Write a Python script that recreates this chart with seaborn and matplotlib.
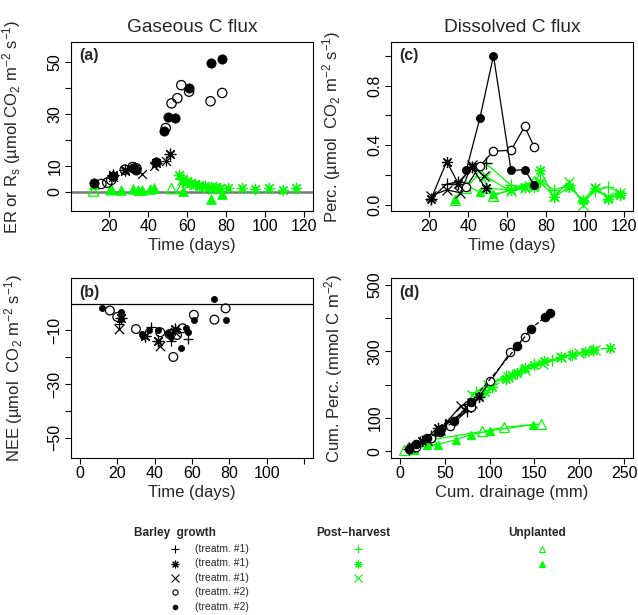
import numpy as np
import pandas as pd
import seaborn as sns
import matplotlib.pyplot as plt

GREEN = "#00ff00"
STAR = (8, 2, 0)   # R pch 8: asterisk made of + and x

# ---- panel (a): ecosystem respiration, time in days ----
a_plus_t = [22, 33, 44, 49]
a_plus_v = [6.0, 9.0, 10.5, 12.0]
a_star_t = [22, 28, 33, 44, 51]
a_star_v = [6.5, 8.5, 9.0, 11.0, 14.5]
a_x_t = [22, 28, 37, 43, 49]
a_x_v = [5.5, 8.0, 7.0, 10.0, 12.0]
a_open_t = [16, 19, 21, 28, 32, 34, 49, 52, 55, 57, 61, 72, 78]
a_open_v = [3.0, 3.5, 4.5, 8.5, 9.5, 9.0, 24.5, 34.0, 36.0, 41.0, 38.5, 34.8, 38.0]
a_fill_t = [12, 22, 32, 34, 44, 48, 50, 54, 61, 72, 78]
a_fill_v = [3.2, 6.2, 9.0, 8.5, 11.5, 23.3, 28.6, 28.2, 40.0, 49.7, 51.2]
a_ph_star_t = [56, 58, 60, 62, 64, 66, 69, 72, 75, 77, 81, 88, 95, 102, 109, 116]
a_ph_star_v = [6.5, 5.0, 4.0, 3.5, 3.0, 2.5, 2.2, 2.0, 1.8, 1.6, 1.4, 1.5, 1.2, 1.5, 0.7, 1.3]
a_ph_plus_t = [57, 59, 61, 63, 65, 68, 71, 74, 76]
a_ph_plus_v = [5.0, 4.0, 3.5, 3.0, 2.5, 2.0, 1.5, 1.2, 1.5]
a_ph_x_t = [57, 59, 61, 63, 66, 68, 70, 73, 76]
a_ph_x_v = [4.0, 3.5, 3.0, 2.5, 2.0, 1.8, 1.0, 0.8, 1.2]
a_unp_open_t = [12, 21, 52, 57]
a_unp_open_v = [0.3, 0.8, 1.2, 1.5]
a_unp_fill_t = [12, 21, 26, 32, 35, 37, 41, 43, 58, 72, 78]
a_unp_fill_v = [3.0, 1.2, 0.5, 1.0, 0.8, 0.5, 1.2, 1.4, 0.2, -2.6, -1.0]

# ---- panel (b): NEE ----
b_open_t = [16, 20, 30, 43, 48, 50, 52, 55, 61, 72, 78]
b_open_v = [-2.6, -5.0, -9.5, -10.7, -11.4, -19.9, -11.7, -9.2, -4.2, -6.0, -1.8]
b_fill_t = [12, 22, 22, 33, 34, 37, 42, 47, 49, 54, 57, 58, 61, 72, 78]
b_fill_v = [-1.8, -3.3, -5.8, -11.4, -12.0, -10.0, -9.9, -10.8, -12.6, -16.4, -9.2, -10.7, -6.1, 1.8, -6.0]
b_plus_t = [21, 38, 49, 58]
b_plus_v = [-7.6, -8.9, -13.9, -13.2]
b_star_t = [22, 35, 42, 51]
b_star_v = [-5.5, -12.0, -13.9, -9.5]
b_x_t = [21, 43, 51]
b_x_v = [-9.5, -15.7, -10.5]

# ---- panel (c): percolation flux ----
c_fill_t = [39, 46, 53, 62, 69, 74]
c_fill_v = [0.23, 0.58, 1.0, 0.23, 0.235, 0.13]
c_open_t = [39, 46, 53, 62, 69, 74]
c_open_v = [0.12, 0.26, 0.36, 0.365, 0.525, 0.385]
c_star_t = [21, 29, 35, 42, 49]
c_star_v = [0.04, 0.29, 0.14, 0.25, 0.11]
c_plus_t = [21, 29, 35, 42, 49]
c_plus_v = [0.04, 0.14, 0.15, 0.25, 0.28]
c_x_t = [21, 29, 36, 42, 48]
c_x_v = [0.06, 0.10, 0.08, 0.27, 0.19]
c_ph_t = [49, 62, 69, 74, 77, 84, 92, 99, 105, 112, 118]
c_ph_plus_v = [0.28, 0.13, 0.12, 0.14, 0.16, 0.10, 0.13, 0.02, 0.09, 0.12, 0.08]
c_ph_star_v = [0.11, 0.10, 0.12, 0.12, 0.23, 0.05, 0.12, 0.03, 0.115, 0.04, 0.065]
c_ph_x_v = [0.19, 0.09, 0.11, 0.14, 0.15, 0.06, 0.155, 0.0, 0.11, 0.05, 0.08]
c_unp_t = [33, 39, 46, 53, 74]
c_unp_open_v = [0.03, 0.11, 0.22, 0.06, 0.16]
c_unp_fill_v = [0.04, 0.13, 0.085, 0.07, 0.13]

# ---- panel (d): cumulative percolation vs cumulative drainage ----
d_fill_x = [10, 18, 30, 45, 60, 79, 131, 146, 162, 167]
d_fill_y = [8, 22, 40, 58, 90, 147, 315, 367, 404, 416]
d_open_x = [18, 35, 56, 79, 101, 123, 139]
d_open_y = [12, 40, 75, 132, 210, 297, 342]
d_star_x = [12, 25, 42, 55, 75, 88]
d_star_y = [10, 30, 70, 85, 130, 162]
d_plus_x = [10, 22, 35, 50, 75]
d_plus_y = [8, 28, 45, 80, 120]
d_x_x = [15, 30, 45, 68, 80]
d_x_y = [12, 35, 65, 137, 145]
d_ph_star_x = [88, 95, 103, 118, 125, 131, 140, 150, 161, 180, 192, 206, 215, 234]
d_ph_star_y = [165, 178, 192, 217, 228, 236, 251, 260, 270, 282, 290, 297, 305, 310]
d_ph_plus_x = [85, 100, 118, 135, 150, 170, 190, 215]
d_ph_plus_y = [178, 205, 225, 245, 262, 275, 290, 303]
d_ph_x_x = [80, 98, 120, 140, 160, 180, 200, 218]
d_ph_x_y = [170, 200, 222, 245, 262, 282, 295, 305]
d_unp_open_x = [5, 14, 30, 36, 92, 116, 157]
d_unp_open_y = [3, 8, 30, 35, 60, 72, 82]
d_unp_fill_x = [14, 30, 42, 62, 79, 101, 148]
d_unp_fill_y = [8, 18, 20, 35, 50, 62, 80]

sns.set_theme(style="ticks")
plt.rcParams["font.family"] = ["Liberation Sans", "DejaVu Sans"]
plt.rcParams["mathtext.default"] = "regular"
plt.rcParams["axes.linewidth"] = 0.8
plt.rcParams["xtick.major.width"] = 0.8
plt.rcParams["ytick.major.width"] = 0.8
plt.rcParams["xtick.major.size"] = 4
plt.rcParams["ytick.major.size"] = 4
plt.rcParams["xtick.labelsize"] = 11.5
plt.rcParams["ytick.labelsize"] = 11.5

fig = plt.figure(figsize=(6.38, 6.15), dpi=100)
W, H = 638, 615
ax_a = fig.add_axes([71 / W, 1 - 211 / H, 242 / W, 169 / H])
ax_b = fig.add_axes([71 / W, 1 - 458 / H, 242 / W, 180 / H])
ax_c = fig.add_axes([391 / W, 1 - 211 / H, 242 / W, 169 / H])
ax_d = fig.add_axes([391 / W, 1 - 458 / H, 242 / W, 180 / H])


def pts(ax, x, y, marker, color="black", s=40, hollow=False, lw=0.9):
    if hollow:
        sns.scatterplot(x=x, y=y, marker=marker, s=s, facecolors="none",
                        edgecolor=color, linewidth=lw, ax=ax, zorder=3)
    elif marker in ("+", "x", STAR):
        sns.scatterplot(x=x, y=y, marker=marker, s=s, color=color,
                        linewidth=lw, ax=ax, zorder=3)
    else:
        sns.scatterplot(x=x, y=y, marker=marker, s=s, color=color,
                        edgecolor=color, linewidth=0.5, ax=ax, zorder=3)


def line(ax, x, y, marker, color="black", ms=6, hollow=False, ls="-"):
    sns.lineplot(x=x, y=y, marker=marker, color=color, sort=False,
                 estimator=None, linewidth=0.9, linestyle=ls,
                 markersize=ms, markeredgecolor=color, markeredgewidth=0.9,
                 markerfacecolor=("white" if hollow else color), ax=ax)


# (a)
ax_a.axhline(0, color="#777777", lw=1.8, zorder=1)
pts(ax_a, a_ph_star_t, a_ph_star_v, STAR, GREEN, s=55)
pts(ax_a, a_ph_plus_t, a_ph_plus_v, "+", GREEN, s=45)
pts(ax_a, a_ph_x_t, a_ph_x_v, "x", GREEN, s=35)
pts(ax_a, a_unp_open_t, a_unp_open_v, "^", GREEN, s=55, hollow=True)
pts(ax_a, a_unp_fill_t, a_unp_fill_v, "^", GREEN, s=50)
pts(ax_a, a_plus_t, a_plus_v, "+", s=55)
pts(ax_a, a_star_t, a_star_v, STAR, s=60)
pts(ax_a, a_x_t, a_x_v, "x", s=40)
pts(ax_a, a_open_t, a_open_v, "o", s=45, hollow=True)
pts(ax_a, a_fill_t, a_fill_v, "o", s=45)
ax_a.set_xlim(0.4, 124.6)
ax_a.set_ylim(-7.4, 57.6)
ax_a.set_xticks(range(20, 121, 20))
ax_a.set_yticks(range(0, 51, 10))
ax_a.set_yticklabels(["0", "10", "", "30", "", "50"])
ax_a.set_xlabel("Time (days)", fontsize=12, labelpad=3)
ax_a.set_ylabel("ER or R$_{s}$ (µmol CO$_{2}$ m$^{-2}$ s$^{-1}$)", fontsize=12)
ax_a.set_title("Gaseous C flux", fontsize=13.8, pad=7)

# (b)
ax_b.axhline(0, color="black", lw=0.9, zorder=1)
pts(ax_b, b_open_t, b_open_v, "o", s=40, hollow=True)
pts(ax_b, b_fill_t, b_fill_v, "o", s=20)
pts(ax_b, b_plus_t, b_plus_v, "+", s=60)
pts(ax_b, b_star_t, b_star_v, STAR, s=60)
pts(ax_b, b_x_t, b_x_v, "x", s=45)
ax_b.set_xlim(-4.8, 124.8)
ax_b.set_ylim(-57.5, 9.5)
ax_b.set_xticks(range(0, 121, 20))
ax_b.set_xticklabels(["0", "20", "40", "60", "80", "100", ""])
ax_b.set_yticks(range(-50, -9, 10))
ax_b.set_yticklabels(["\u221250", "", "\u221230", "", "\u221210"])
ax_b.set_xlabel("Time (days)", fontsize=12, labelpad=3)
ax_b.set_ylabel("NEE (µmol  CO$_{2}$ m$^{-2}$ s$^{-1}$)", fontsize=12)

# (c)
line(ax_c, c_ph_t, c_ph_plus_v, "+", GREEN, ms=8)
line(ax_c, c_ph_t, c_ph_star_v, STAR, GREEN, ms=8)
line(ax_c, c_ph_t, c_ph_x_v, "x", GREEN, ms=7)
line(ax_c, c_unp_t, c_unp_open_v, "^", GREEN, ms=7, hollow=True)
line(ax_c, c_unp_t, c_unp_fill_v, "^", GREEN, ms=6)
line(ax_c, c_star_t, c_star_v, STAR, ms=8)
line(ax_c, c_plus_t, c_plus_v, "+", ms=8)
line(ax_c, c_x_t, c_x_v, "x", ms=7)
line(ax_c, c_open_t, c_open_v, "o", ms=6, hollow=True)
line(ax_c, c_fill_t, c_fill_v, "o", ms=5.5)
ax_c.set_xlim(0.4, 124.6)
ax_c.set_ylim(-0.042, 1.092)
ax_c.set_xticks(range(20, 121, 20))
ax_c.set_yticks([0, 0.2, 0.4, 0.6, 0.8, 1.0])
ax_c.set_yticklabels(["0.0", "", "0.4", "", "0.8", ""])
ax_c.set_xlabel("Time (days)", fontsize=12, labelpad=3)
ax_c.set_ylabel("Perc. (µmol  CO$_{2}$ m$^{-2}$ s$^{-1}$)", fontsize=12)
ax_c.set_title("Dissolved C flux", fontsize=13.8, pad=7)

# (d)
line(ax_d, d_ph_star_x, d_ph_star_y, STAR, GREEN, ms=8, ls="--")
line(ax_d, d_ph_plus_x, d_ph_plus_y, "+", GREEN, ms=8)
line(ax_d, d_ph_x_x, d_ph_x_y, "x", GREEN, ms=7)
line(ax_d, d_unp_open_x, d_unp_open_y, "^", GREEN, ms=7, hollow=True)
line(ax_d, d_unp_fill_x, d_unp_fill_y, "^", GREEN, ms=6)
line(ax_d, d_star_x, d_star_y, STAR, ms=8)
line(ax_d, d_plus_x, d_plus_y, "+", ms=8)
line(ax_d, d_x_x, d_x_y, "x", ms=7)
line(ax_d, d_open_x, d_open_y, "o", ms=6, hollow=True)
line(ax_d, d_fill_x, d_fill_y, "o", ms=6, ls="--")
ax_d.set_xlim(-10, 260)
ax_d.set_ylim(-20, 520)
ax_d.set_xticks(range(0, 251, 50))
ax_d.set_yticks(range(0, 501, 100))
ax_d.set_yticklabels(["0", "100", "", "300", "", "500"])
ax_d.set_xlabel("Cum. drainage (mm)", fontsize=12, labelpad=3)
ax_d.set_ylabel("Cum. Perc. (mmol C m$^{-2}$)", fontsize=12)

for ax, lab, lx in [(ax_a, "(a)", -0.20), (ax_b, "(b)", -0.19),
                    (ax_c, "(c)", -0.20), (ax_d, "(d)", -0.19)]:
    ax.text(0.035, 0.92, lab, transform=ax.transAxes, fontsize=11.5,
            fontweight="bold", ha="left", va="center")
    ax.yaxis.set_label_coords(lx, 0.5)
    for tl in ax.get_yticklabels():
        tl.set_rotation(90)
        tl.set_va("center")
    for sp in ax.spines.values():
        sp.set_visible(True)
        sp.set_color("black")
    ax.tick_params(colors="black", pad=2)

# legend drawn in pixel coordinates
leg = fig.add_axes([0, 0, 1, 1])
leg.set_xlim(0, W)
leg.set_ylim(H, 0)
leg.axis("off")
leg_rows = [549, 563.5, 578, 592, 606.5]
barley_markers = ["+", STAR, "x", "o", "o"]
barley_labels = ["(treatm. #1)", "(treatm. #1)", "(treatm. #1)", "(treatm. #2)", "(treatm. #2)"]
barley_hollow = [False, False, False, True, False]
ph_markers = ["+", STAR, "x"]
unp_hollow = [True, False]

leg.text(175, 533, "Barley  growth", fontsize=8.5, fontweight="bold", ha="center", va="center")
leg.text(353, 533, "Post\u2212harvest", fontsize=8.5, fontweight="bold", ha="center", va="center")
leg.text(537, 533, "Unplanted", fontsize=8.5, fontweight="bold", ha="center", va="center")
for yy, m, lab, hol in zip(leg_rows, barley_markers, barley_labels, barley_hollow):
    if m == "o":
        ms = 3.8 if hol else 3.2
    else:
        ms = 5.5
    leg.plot([175], [yy], marker=m, ms=ms, color="black", mew=0.8,
             mfc=("none" if hol else "black"), linestyle="")
    leg.text(195, yy, lab, fontsize=7.5, ha="left", va="center")
for yy, m in zip(leg_rows, ph_markers):
    leg.plot([358], [yy], marker=m, ms=5.5, color=GREEN, mew=0.8, linestyle="")
for yy, hol in zip(leg_rows, unp_hollow):
    leg.plot([542], [yy], marker="^", ms=4.5, color=GREEN, mew=0.8,
             mfc=("none" if hol else GREEN), linestyle="")

fig.savefig("out.png", dpi=100)
